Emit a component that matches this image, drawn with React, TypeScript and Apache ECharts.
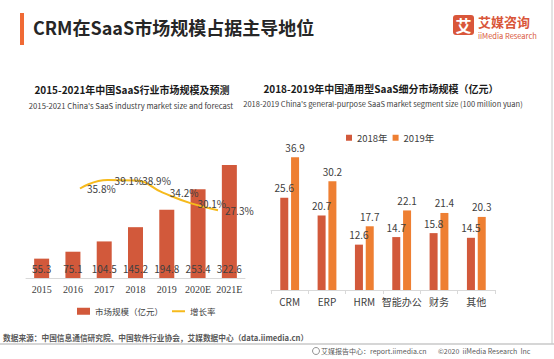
import React, { useEffect, useRef } from "react";
import * as echarts from "echarts";

const years = ["2015", "2016", "2017", "2018", "2019", "2020E", "2021E"];
const marketSize = [55.3, 75.1, 104.5, 145.2, 194.8, 253.4, 322.6];
const growthYears = ["2016", "2017", "2018", "2019", "2020E", "2021E"];
const growthRate = [35.8, 39.1, 38.9, 34.2, 30.1, 27.3];

const segments = ["CRM", "ERP", "HRM", "智能办公", "财务", "其他"];
const seg2018 = [25.6, 20.7, 12.6, 14.7, 15.8, 14.5];
const seg2019 = [36.9, 30.2, 17.7, 22.1, 21.4, 20.3];

const RED = "#D2593B";
const ORANGE = "#EE7F32";
const GOLD = "#F6BA1C";
const CJK = '"Noto Sans CJK SC", "Noto Sans", sans-serif';

export default function App() {
  const ref = useRef<HTMLDivElement>(null);
  useEffect(() => {
    document.body.style.margin = "0";
    const chart = echarts.init(ref.current!, null, { renderer: "svg" });
    const lbl = { color: "#404040", fontSize: 10, fontFamily: CJK };
    chart.setOption({
      animation: false,
      backgroundColor: "#ffffff",
      grid: [
        { left: 26, top: 138, width: 219, height: 140 },
        { left: 80, top: 165, width: 138, height: 115 },
        { left: 271, top: 146, width: 224, height: 144 },
      ],
      xAxis: [
        {
          type: "category", gridIndex: 0, data: years,
          axisLine: { lineStyle: { color: "#d9d9d9" } },
          axisTick: { show: false },
          axisLabel: { interval: 0, color: "#404040", fontSize: 10, fontFamily: '"Liberation Serif", serif', margin: 6 },
        },
        {
          type: "category", gridIndex: 1, data: growthYears, boundaryGap: false, show: false,
        },
        {
          type: "category", gridIndex: 2, data: segments,
          axisLine: { lineStyle: { color: "#d9d9d9" } },
          axisTick: { show: true, length: 4, interval: 0, lineStyle: { color: "#d9d9d9" } },
          axisLabel: { interval: 0, color: "#404040", fontSize: 10, fontFamily: CJK, margin: 6 },
        },
      ],
      yAxis: [
        { type: "value", gridIndex: 0, min: 0, max: 400, show: false, splitLine: { show: false } },
        { type: "value", gridIndex: 1, min: 0, max: 45, show: false, splitLine: { show: false } },
        { type: "value", gridIndex: 2, min: 0, max: 40, show: false, splitLine: { show: false } },
      ],
      legend: [
        {
          left: 72, top: 302, itemWidth: 13, itemHeight: 7, itemGap: 9,
          textStyle: { color: "#404040", fontSize: 8.5, fontFamily: CJK },
          data: [
            { name: "市场规模（亿元）", icon: "rect" },
            { name: "增长率", icon: "path://M0,0 L26,0 L26,4 L0,4 Z" },
          ],
        },
        {
          left: 341, top: 128, itemWidth: 6, itemHeight: 6, itemGap: 5,
          textStyle: { color: "#404040", fontSize: 9.5, fontFamily: CJK },
          data: [{ name: "2018年", icon: "rect" }, { name: "2019年", icon: "rect" }],
        },
      ],
      series: [
        {
          name: "市场规模（亿元）", type: "bar", xAxisIndex: 0, yAxisIndex: 0, data: marketSize,
          barWidth: 15, itemStyle: { color: RED },
          label: { show: true, position: "insideBottom", distance: 5, ...lbl },
        },
        {
          name: "增长率", type: "line", xAxisIndex: 1, yAxisIndex: 1, data: growthRate,
          smooth: true, symbol: "circle", symbolSize: 0, showSymbol: true,
          lineStyle: { color: GOLD, width: 2 }, itemStyle: { color: GOLD },
          labelLayout: { hideOverlap: false },
          label: { show: true, position: "right", distance: 7, formatter: (p: any) => p.value.toFixed(1) + "%", ...lbl },
        },
        {
          name: "2018年", type: "bar", xAxisIndex: 2, yAxisIndex: 2, data: seg2018,
          barWidth: 8, barGap: "35%", itemStyle: { color: RED },
          label: { show: true, position: "top", distance: 5, ...lbl },
        },
        {
          name: "2019年", type: "bar", xAxisIndex: 2, yAxisIndex: 2, data: seg2019,
          barWidth: 8, barGap: "35%", itemStyle: { color: ORANGE },
          label: { show: true, position: "top", distance: 5, ...lbl },
        },
      ],
      graphic: [
        { type: "rect", shape: { x: 20, y: 13, width: 4, height: 32 }, style: { fill: "#F06A35" } },
        {
          type: "text", x: 33, y: 27,
          style: { text: "CRM在SaaS市场规模占据主导地位", fill: "#262626", font: `bold 18px ${CJK}`, textVerticalAlign: "middle" },
        },
        { type: "rect", shape: { x: 453, y: 15, width: 21, height: 20, r: 3 }, style: { fill: "#D9563A" } },
        {
          type: "text", x: 463.5, y: 25,
          style: { text: "艾", fill: "#ffffff", font: `bold 16px ${CJK}`, textAlign: "center", textVerticalAlign: "middle" },
        },
        {
          type: "text", x: 478, y: 21,
          style: { text: "艾媒咨询", fill: "#D9563A", font: `bold 13px ${CJK}`, textVerticalAlign: "middle" },
        },
        {
          type: "text", x: 478, y: 35.5,
          style: { text: "iiMedia Research", fill: "#D9563A", font: `7.5px ${CJK}`, textVerticalAlign: "middle" },
        },
        {
          type: "text", x: 132, y: 89,
          style: { text: "2015-2021年中国SaaS行业市场规模及预测", fill: "#1a1a1a", font: `bold 10px ${CJK}`, textAlign: "center", textVerticalAlign: "middle" },
        },
        {
          type: "text", x: 131, y: 105,
          style: { text: "2015-2021 China's SaaS industry market size and forecast", fill: "#404040", font: `7.7px ${CJK}`, textAlign: "center", textVerticalAlign: "middle" },
        },
        {
          type: "text", x: 381, y: 88,
          style: { text: "2018-2019年中国通用型SaaS细分市场规模（亿元）", fill: "#1a1a1a", font: `bold 10px ${CJK}`, textAlign: "center", textVerticalAlign: "middle" },
        },
        {
          type: "text", x: 383, y: 103,
          style: { text: "2018-2019 China's general-purpose SaaS market segment size (100 million yuan)", fill: "#404040", font: `7.5px ${CJK}`, textAlign: "center", textVerticalAlign: "middle" },
        },
        { type: "line", shape: { x1: 552, y1: 0, x2: 552, y2: 344 }, style: { stroke: "#c8c8c8", lineWidth: 1 } },
        {
          type: "text", x: 3, y: 337,
          style: { text: "数据来源：中国信息通信研究院、中国软件行业协会，艾媒数据中心（data.iimedia.cn）", fill: "#595959", font: `bold 7.7px ${CJK}`, textVerticalAlign: "middle" },
        },
        { type: "line", shape: { x1: 0, y1: 344, x2: 554, y2: 344 }, style: { stroke: "#c8c8c8", lineWidth: 1.5 } },
        { type: "circle", shape: { cx: 316, cy: 351, r: 3.5 }, style: { fill: "none", stroke: "#777", lineWidth: 0.8 } },
        {
          type: "text", x: 321, y: 351,
          style: { text: "艾媒报告中心：report.iimedia.cn", fill: "#595959", font: `7px ${CJK}`, textVerticalAlign: "middle" },
        },
        {
          type: "text", x: 438, y: 351,
          style: { text: "©2020  iiMedia Research  Inc", fill: "#595959", font: `7px ${CJK}`, textVerticalAlign: "middle" },
        },
      ],
    });
    return () => chart.dispose();
  }, []);
  return <div ref={ref} style={{ width: 554, height: 359 }} />;
}
